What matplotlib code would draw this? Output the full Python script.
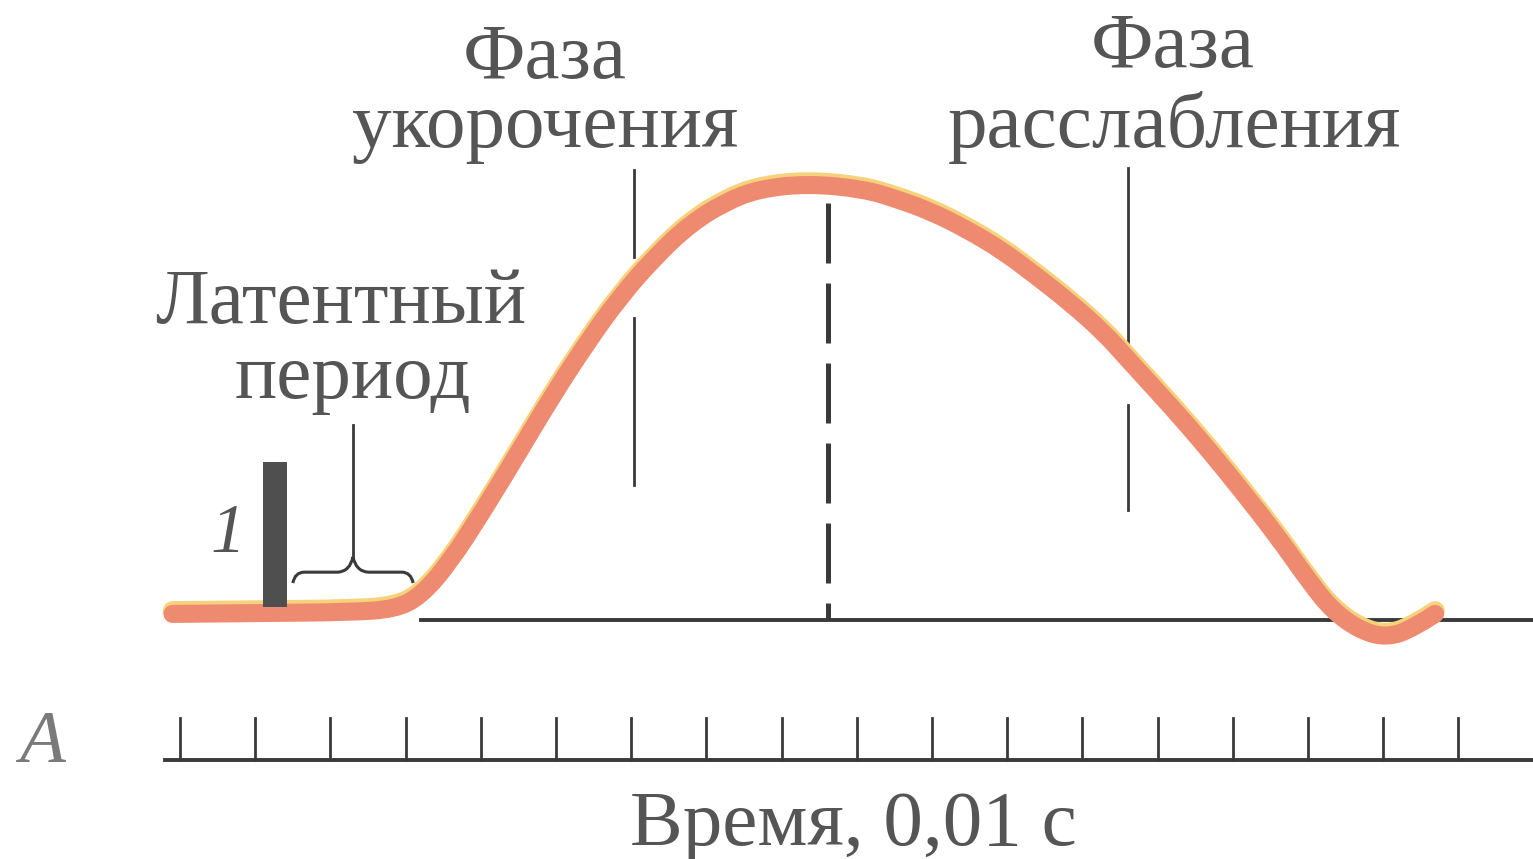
# -*- coding: utf-8 -*-
import numpy as np
import matplotlib.pyplot as plt
from matplotlib.path import Path
from matplotlib.patches import PathPatch
from matplotlib import transforms

# кривая одиночного сокращения: время, мс (1 деление = 10 мс) и амплитуда, % от максимума
t_ms = [-1.0, 10.6, 22.6, 28.6, 32.0, 35.8, 40.3, 44.9, 49.5, 54.1, 58.6, 63.3,
        67.8, 72.5, 77.0, 83.5, 90.8, 95.3, 100.0, 104.5, 109.2, 113.7, 118.4,
        122.9, 126.1, 132.0, 136.7, 141.2, 145.9, 150.4, 153.2, 156.8, 160.5,
        164.1, 166.9]
amp = [1.4, 1.6, 1.8, 2.5, 5.5, 13.1, 25.1, 38.2, 51.5, 63.7, 74.5, 83.7,
       91.0, 96.1, 99.1, 100.3, 99.1, 96.8, 93.8, 89.9, 85.1, 79.3, 72.9,
       66.0, 59.8, 48.7, 39.3, 29.7, 19.3, 8.3, 2.3, -2.3, -4.1,
       -1.8, 1.4]

tick_ms = list(range(0, 180, 10))

# границы фаз
shortening_x = 60.4
shortening_segs = [(103.4, 83.4), (69.4, 31.0)]
peak_x = 86.2
peak_top = 95.9
relax_x = 126.1
relax_segs = [(103.9, 62.8), (49.4, 25.3)]

# раздражение (метка 1) и латентный период
stim_x0, stim_x1 = 11.0, 14.2
stim_y0, stim_y1 = 3.0, 36.3
latent_x0, latent_x1 = 15.0, 31.0

axis_y = -32.2
tick_top = -22.5

plt.rcParams['font.family'] = ['Liberation Serif', 'DejaVu Serif']
ink = '#555555'
line_ink = '#3a3a3a'


def smooth_path(xs, ys):
    # квадратичные кривые Безье: точки - опорные, середины отрезков - узлы
    pts = list(zip(xs, ys))
    verts = [pts[0]]
    codes = [Path.MOVETO]
    for i in range(1, len(pts) - 1):
        mid = ((pts[i][0] + pts[i + 1][0]) / 2, (pts[i][1] + pts[i + 1][1]) / 2)
        if i == len(pts) - 2:
            mid = pts[i + 1]
        verts += [pts[i], mid]
        codes += [Path.CURVE3, Path.CURVE3]
    return Path(verts, codes)


def main():
    fig = plt.figure(figsize=(15.33, 8.59), dpi=100)
    ax = fig.add_axes([0, 0, 1, 1])
    ax.set_xlim(-23.94, 179.92)
    ax.set_ylim(-54.94, 142.53)
    ax.axis('off')

    # базовая линия
    ax.plot([32, 180], [0, 0], color=line_ink, lw=2.8, zorder=2)

    # вертикальные линии фаз
    for y0, y1 in shortening_segs:
        ax.plot([shortening_x, shortening_x], [y0, y1], color=line_ink, lw=2.0, zorder=2)
    for y0, y1 in relax_segs:
        ax.plot([relax_x, relax_x], [y0, y1], color=line_ink, lw=2.0, zorder=2)
    ax.plot([peak_x, peak_x], [peak_top, 0], color=line_ink, lw=3.6,
            dashes=(12.0, 4.0), zorder=2)

    # сама кривая (жёлтая кромка + лососевая линия)
    curve = smooth_path(t_ms, amp)
    shift = transforms.offset_copy(ax.transData, fig=fig, x=0, y=2.2, units='points')
    ax.add_patch(PathPatch(curve, fill=False, ec='#f6d27a', lw=14, capstyle='round',
                           joinstyle='round', transform=shift, zorder=3))
    ax.add_patch(PathPatch(curve, fill=False, ec='#ee8a70', lw=13, capstyle='round',
                           joinstyle='round', zorder=4))

    # метка раздражения
    ax.bar((stim_x0 + stim_x1) / 2, stim_y1 - stim_y0, width=stim_x1 - stim_x0,
           bottom=stim_y0, color='#4f4f4f', zorder=5)
    ax.text(6.4, 19.5, '1', fontsize=50, style='italic', color=ink,
            ha='center', va='center')

    # фигурная скобка латентного периода
    xm = (latent_x0 + latent_x1) / 2
    verts = [(latent_x0, 8.5), (latent_x0 + 0.3, 11.0), (latent_x0 + 1.5, 11.0),
             (xm - 2.0, 11.0),
             (xm - 0.4, 11.2), (xm, 14.5),
             (xm + 0.4, 11.2), (xm + 2.0, 11.0),
             (latent_x1 - 1.5, 11.0),
             (latent_x1 - 0.3, 11.0), (latent_x1, 8.5)]
    codes = [Path.MOVETO, Path.CURVE3, Path.CURVE3, Path.LINETO,
             Path.CURVE3, Path.CURVE3, Path.CURVE3, Path.CURVE3,
             Path.LINETO, Path.CURVE3, Path.CURVE3]
    ax.add_patch(PathPatch(Path(verts, codes), fill=False, ec=line_ink, lw=2.2, zorder=5))
    ax.plot([xm, xm], [14.5, 44.8], color=line_ink, lw=2.0, zorder=5)

    # ось времени
    ax.plot([-2, 180], [axis_y, axis_y], color=line_ink, lw=2.8)
    for t in tick_ms:
        ax.plot([t, t], [axis_y, tick_top], color=line_ink, lw=2.0)

    fs = 57
    ax.text(48.5, 124.6, 'Фаза', fontsize=fs, color=ink, ha='center', va='baseline')
    ax.text(48.5, 108.7, 'укорочения', fontsize=fs, color=ink, ha='center', va='baseline')
    ax.text(132.0, 127.1, 'Фаза', fontsize=fs, color=ink, ha='center', va='baseline')
    ax.text(132.2, 108.7, 'расслабления', fontsize=fs, color=ink, ha='center', va='baseline')
    ax.text(21.4, 68.3, 'Латентный', fontsize=fs, color=ink, ha='center', va='baseline')
    ax.text(23.0, 51.0, 'период', fontsize=fs, color=ink, ha='center', va='baseline')
    ax.text(89.5, -51.7, 'Время, 0,01 с', fontsize=fs, color=ink, ha='center', va='baseline')
    ax.text(-18.4, -32.6, 'A', fontsize=54, style='italic', color='#7a7a7a',
            ha='center', va='baseline')

    fig.savefig('out.png', dpi=100)


if __name__ == '__main__':
    main()
